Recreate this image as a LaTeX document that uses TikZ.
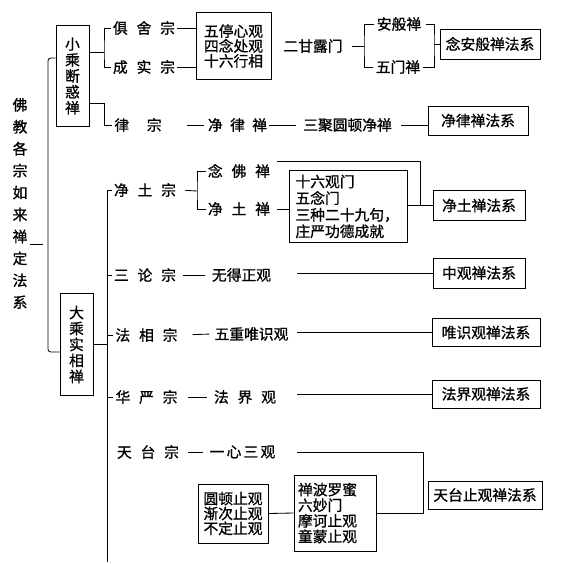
\documentclass[tikz,border=0pt]{standalone}
\usepackage{fontspec}
\setmainfont{Noto Sans CJK SC}[FakeBold=1]
\usepackage{tikz}
\usetikzlibrary{calc}

\newcommand{\gp}{\hspace{0.6em}}

\begin{document}
\begin{tikzpicture}[x=0.025cm, y=-0.025cm,
        text_style/.style={inner sep=1.5pt,font=\fontsize{10.5pt}{11pt}\selectfont},
        title_style/.style={inner sep=1.5pt,align=center,font=\fontsize{10.5pt}{15.6pt}\selectfont},
        vbox_style/.style={draw,line width=0.7pt,inner sep=1pt,align=center,minimum width=0.825cm,font=\fontsize{10.5pt}{11.35pt}\selectfont},
        box_style/.style={draw,line width=0.7pt,inner sep=2pt,align=center,font=\fontsize{10.5pt}{10.6pt}\selectfont},
        edge_style/.style={draw=black,line width=0.6pt}]

        \useasboundingbox (0,0) rectangle (563,564);

        \node [title_style](n1) at (20,203.5) {佛\\教\\各\\宗\\如\\来\\禅\\定\\法\\系};

        \node [vbox_style,minimum height=2.5cm](n2) at (72.5,76) {小\\乘\\断\\惑\\禅};

        \node [vbox_style,minimum height=2.525cm](n3) at (76.5,344.5) {大\\乘\\实\\相\\禅};

        % xiaocheng
        \node [text_style](n4) at (144,28) {俱\gp 舍\gp 宗};

        \node [text_style](n5) at (144,67) {成\gp 实\gp 宗};

        \node [text_style](n6) at (138,125) {律\hspace{1.2em}宗};

        \node [box_style,minimum width=1.875cm,minimum height=1.65cm](n7) at (233.5,46) {五停心观\\四念处观\\十六行相};

        \node [text_style](n8) at (313,46) {二甘露门};

        \node [text_style](n9) at (399,24) {安般禅};

        \node [text_style](n10) at (398,67) {五门禅};

        \node [box_style,minimum width=2.5cm,minimum height=0.75cm](n11) at (490,44) {念安般禅法系};

        \node [text_style](n12) at (237.5,125) {净\hspace{0.5em}律\hspace{0.5em}禅};

        \node [text_style](n13) at (347.5,125) {三聚圆顿净禅};

        \node [box_style,minimum width=2.5cm,minimum height=0.725cm](n14) at (478,120.5) {净律禅法系};

        % dacheng
        \node [text_style](n15) at (145,190) {净\gp 土\gp 宗};

        \node [text_style](n16) at (239,171) {念\gp 佛\gp 禅};

        \node [text_style](n17) at (239,209) {净\gp 土\gp 禅};

        \node [box_style,align=left,text width=2.65cm,inner xsep=4pt,minimum height=1.775cm,font=\fontsize{10.5pt}{11.8pt}\selectfont](n18) at (348.5,206.5) {十六观门\\五念门\\三种二十九句，\\庄严功德成就};

        \node [box_style,minimum width=2.3cm,minimum height=0.73cm](n19) at (479,205.5) {净土禅法系};

        \node [text_style](n20) at (145,275) {三\gp 论\gp 宗};

        \node [text_style](n21) at (241.5,275) {无得正观};

        \node [box_style,minimum width=2.3cm,minimum height=0.75cm](n22) at (479,273) {中观禅法系};

        \node [text_style](n23) at (146.5,335) {法\gp 相\gp 宗};

        \node [text_style](n24) at (251.5,334) {五重唯识观};

        \node [box_style,minimum width=2.7cm,minimum height=0.72cm](n25) at (486,332.5) {唯识观禅法系};

        \node [text_style](n26) at (146.5,397) {华\gp 严\gp 宗};

        \node [text_style](n27) at (245,397) {法\gp 界\gp 观};

        \node [box_style,minimum width=2.7cm,minimum height=0.7cm](n28) at (486,394) {法界观禅法系};

        \node [text_style](n29) at (148,452) {天\gp 台\gp 宗};

        \node [text_style](n30) at (242.5,452) {一\hspace{0.15em}心\hspace{0.15em}三\hspace{0.15em}观};

        \node [box_style,minimum width=1.75cm,minimum height=1.475cm](n31) at (233,513.5) {圆顿止观\\渐次止观\\不定止观};

        \node [box_style,align=left,text width=1.875cm,inner xsep=2.8pt,minimum height=1.9cm,font=\fontsize{10.5pt}{11.1pt}\selectfont](n32) at (335.5,513) {禅波罗蜜\\六妙门\\摩诃止观\\童蒙止观};

        \node [box_style,minimum width=2.85cm,minimum height=0.7cm](n33) at (485,495) {天台止观禅法系};

        \coordinate (t1) at (43,244);
        \coordinate (b1) at (48,58);
        \coordinate (b2) at (48,352);
        \coordinate (j1) at (104,52);
        \coordinate (j2) at (104,103);
        \coordinate (j3) at (364,46);
        \coordinate (j4) at (434,44);
        \coordinate (j5) at (197,191);
        \coordinate (j6) at (420,0);
        \coordinate (j7) at (423,0);
        \coordinate (k2) at (107,562);
        \coordinate (L) at (297,0);

        \draw [edge_style] (n1.east |- t1) -- (t1);

        \draw [edge_style,rounded corners=2pt] (n2.west |- b1) -- (b1) -- (b2) -- (n3.west |- b2);

        \draw [edge_style] (n2.east |- j1) -- (j1);

        \draw [edge_style] (n4.west) -| (j1) |- (n5.west);

        \draw [edge_style] (n2.east |- j2) -- (j2) |- (n6.west);

        \draw [edge_style] (n4.east) -- (n7.west |- n4.east);

        \draw [edge_style] (n5.east) -- (n7.west |- n5.east);

        \draw [edge_style,shorten <=5pt] (n8.east) -- (j3);

        \draw [edge_style] (n9.west) -| (j3) |- (n10.west);

        \draw [edge_style,shorten <=2pt] (n9.east) -| (j4) |- (n10.east);

        \draw [edge_style] (j4) -- (n11.west);

        \draw [edge_style,shorten <=16.5pt,shorten >=1pt] (n6.east) -- (n12.west);

        \draw [edge_style,shorten >=3.5pt] (n12.east) -- (n13.west);

        \draw [edge_style,shorten <=5pt] (n13.east) -- (n14.west |- n13.east);

        \draw [edge_style] (n15.west) -| (k2);

        \draw [edge_style] (n3.east) -- (n3.east -| k2);

        \draw [edge_style,shorten <=5pt] (n15.east) -- (j5);

        \draw [edge_style] (n16.west) -| (j5) |- (n17.west);

        \draw [edge_style,shorten <=3.5pt] (n16.north east) -| (j6 |- n19.west);

        \draw [edge_style,shorten <=3.5pt] (n17.east) -- (n18.west |- n17.east);

        \draw [edge_style] (n18.east |- n19.west) -- (n19.west);

        \draw [edge_style] (k2 |- n20.west) -- (n20.west);

        \draw [edge_style,shorten <=3pt,shorten >=3.5pt] (n20.east) -- (n21.west);

        \draw [edge_style] (L |- n22.west) -- (n22.west);

        \draw [edge_style] (k2 |- n23.west) -- (n23.west);

        \draw [edge_style,shorten <=9pt,shorten >=2pt] (n23.east) -- (n24.west);

        \draw [edge_style] (L |- n25.west) -- (n25.west);

        \draw [edge_style] (k2 |- n26.west) -- (n26.west);

        \draw [edge_style,shorten <=6pt,shorten >=3pt] (n26.east) -- (n27.west);

        \draw [edge_style] (L |- n28.west) -- (n28.west);

        \draw [edge_style,shorten <=5pt,shorten >=3pt] (n29.east) -- (n30.west);

        \draw [edge_style] (L |- n30.east) -| (j7 |- n32.east) -- (n32.east);

        \draw [edge_style] (n31.east) -- (n32.west);

\end{tikzpicture}
\end{document}
